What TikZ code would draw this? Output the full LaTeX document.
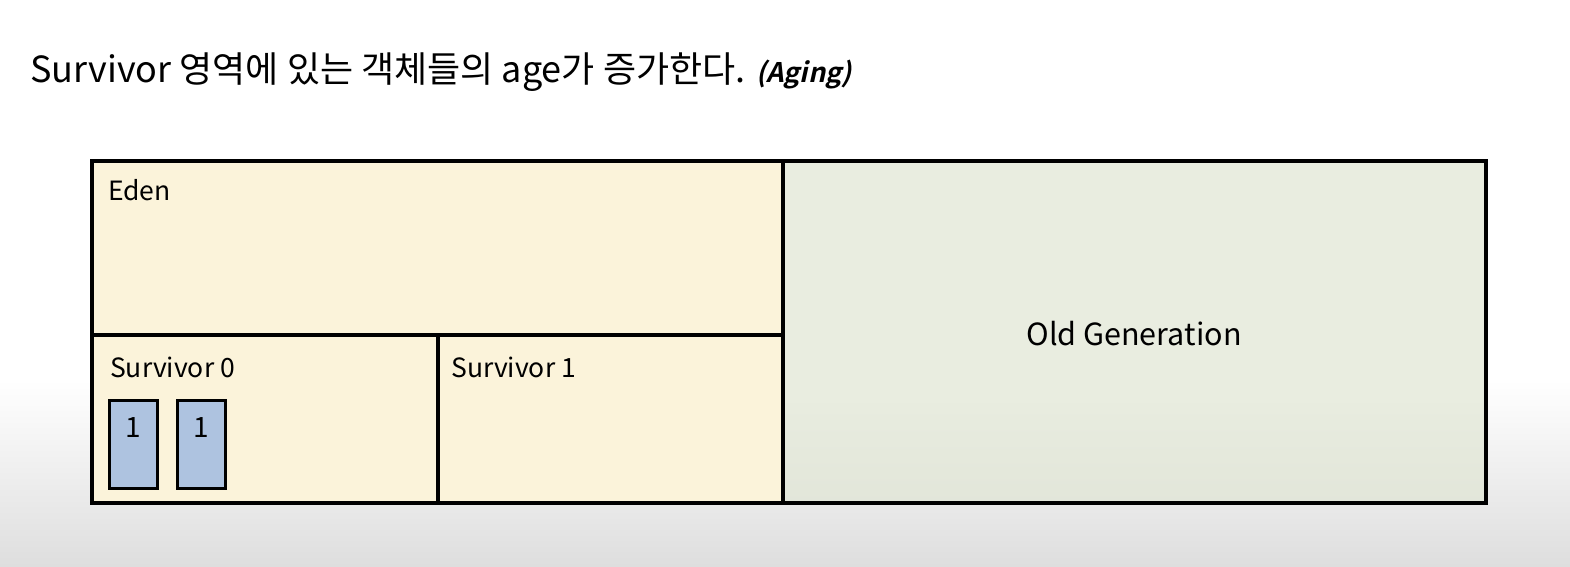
\documentclass[tikz,border=0pt]{standalone}
\usepackage{fontspec}
\setmainfont{Noto Sans CJK KR}
\newfontfamily\slantfont[FakeSlant=0.22]{Noto Sans CJK KR Bold}
\definecolor{edenc}{RGB}{251,243,218}
\definecolor{oldc}{RGB}{233,237,224}
\definecolor{objc}{RGB}{174,195,224}
\definecolor{bgbot}{RGB}{222,222,222}
\tikzset{
  area/.style={draw=black, line width=3.2pt},
  lbl/.style={anchor=west, inner sep=0pt, font=\fontsize{26.5}{26.5}\selectfont},
  obj/.style={draw=black, line width=3.2pt, fill=objc, minimum width=48pt, minimum height=88pt, inner sep=0pt},
}
\begin{document}
\begin{tikzpicture}[x=1pt,y=-1pt]
\useasboundingbox (0,0) rectangle (1570,566);
\fill[white] (0,0) rectangle (1570,566);
\shade[top color=white, bottom color=bgbot] (0,380) rectangle (1570,566);
% areas
\fill[edenc] (92,161) rectangle (783,503);
\fill[oldc] (783,161) rectangle (1486,503);
\shade[top color=oldc, bottom color=oldc!92!black, opacity=0.35] (783,400) rectangle (1486,503);
\draw[area] (92,161) rectangle (1486,503);
\draw[area] (783,161) -- (783,503);
\draw[area] (92,335) -- (783,335);
\draw[area] (438,335) -- (438,503);
% title
\node[anchor=base west, inner sep=0pt, font=\fontsize{36}{36}\selectfont] (title) at (30,82)
  {Survivor 영역에 있는 객체들의 age가 증가한다. {\fontsize{27}{27}\slantfont (Aging)}};
% labels
\node[lbl] (eden) at (108,190) {Eden};
\node[lbl] (s0) at (110,367) {Survivor 0};
\node[lbl] (s1) at (451,367) {Survivor 1};
\node[inner sep=0pt, font=\fontsize{30.5}{30.5}\selectfont] (old) at (1134,334) {Old Generation};
% objects
\node[obj] (o1) at (133.5,444.5) {};
\node[obj] (o2) at (201.5,444.5) {};
\node[inner sep=0pt, font=\fontsize{28}{28}\selectfont] (n1) at (133.5,428) {1};
\node[inner sep=0pt, font=\fontsize{28}{28}\selectfont] (n2) at (201.5,428) {1};
\end{tikzpicture}
\end{document}
